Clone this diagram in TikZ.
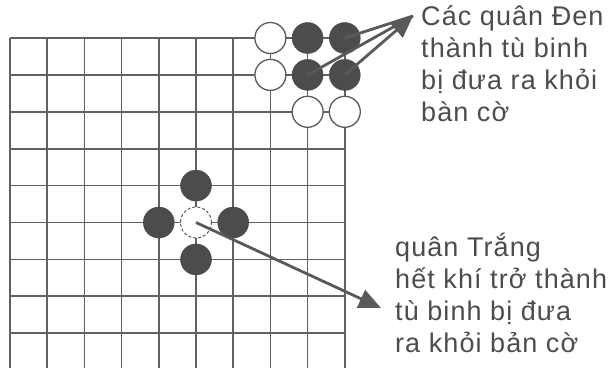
\documentclass[tikz,border=0pt]{standalone}
\usepackage{fontspec}
\newfontfamily\notefont[LetterSpace=4]{Liberation Sans}
\usetikzlibrary{arrows.meta}

\begin{document}
\begin{tikzpicture}[
  x=1pt, y=-1pt,
  gridline/.style={draw=black!62, line width=1.7pt},
  blackstone/.style={circle, fill=black!70, draw=black!75, minimum size=31pt, inner sep=0pt},
  whitestone/.style={circle, fill=white, draw=black!65, line width=1.3pt, minimum size=31pt, inner sep=0pt},
  arrow/.style={-{Triangle[length=22pt, width=19pt]}, draw=black!65, line width=2.8pt},
  plainline/.style={draw=black!65, line width=2.8pt},
  notetext/.style={anchor=north west, inner sep=0pt, align=left, text=black!70,
                   font=\notefont\fontsize{27}{32}\selectfont}
]
\useasboundingbox (0,0) rectangle (616,368);
\clip (0,0) rectangle (616,368);

% board
\foreach \i in {0,...,9}
  \draw[gridline] ({10+37.2*\i},38) -- ({10+37.2*\i},368);
\foreach \j in {0,...,8}
  \draw[gridline] (10,{38+36.9*\j}) -- (344.8,{38+36.9*\j});

% corner: black group taken
\node[whitestone] (w1) at (270.4,38)    {};
\node[whitestone] (w2) at (270.4,74.9)  {};
\node[whitestone] (w3) at (307.6,111.8) {};
\node[whitestone] (w4) at (344.8,111.8) {};
\node[blackstone] (b1) at (307.6,38)    {};
\node[blackstone] (b2) at (344.8,38)    {};
\node[blackstone] (b3) at (307.6,74.9)  {};
\node[blackstone] (b4) at (344.8,74.9)  {};

% centre: white stone taken
\node[whitestone, densely dashed, line width=1pt] (wc) at (196,222.5) {};
\node[blackstone] (bn) at (196,185.6)   {};
\node[blackstone] (bw) at (158.8,222.5) {};
\node[blackstone] (be) at (233.2,222.5) {};
\node[blackstone] (bs) at (196,259.4)   {};

% notes
\coordinate (tipa) at (413,16);
\coordinate (tipb) at (381,308);
\node[notetext] (notea) at (421,5)   {Các quân Đen\\thành tù binh\\bị đưa ra khỏi\\bàn cờ};
\node[notetext] (noteb) at (395,233) {quân Trắng\\hết khí trở thành\\tù binh bị đưa\\ra khỏi bản cờ};

% arrows
\draw[plainline] (b2.center) -- (tipa);
\draw[plainline] (b3.center) -- (tipa);
\draw[arrow] (b4.center) -- (tipa);
\draw[arrow] (wc.center) -- (tipb);
\end{tikzpicture}
\end{document}
